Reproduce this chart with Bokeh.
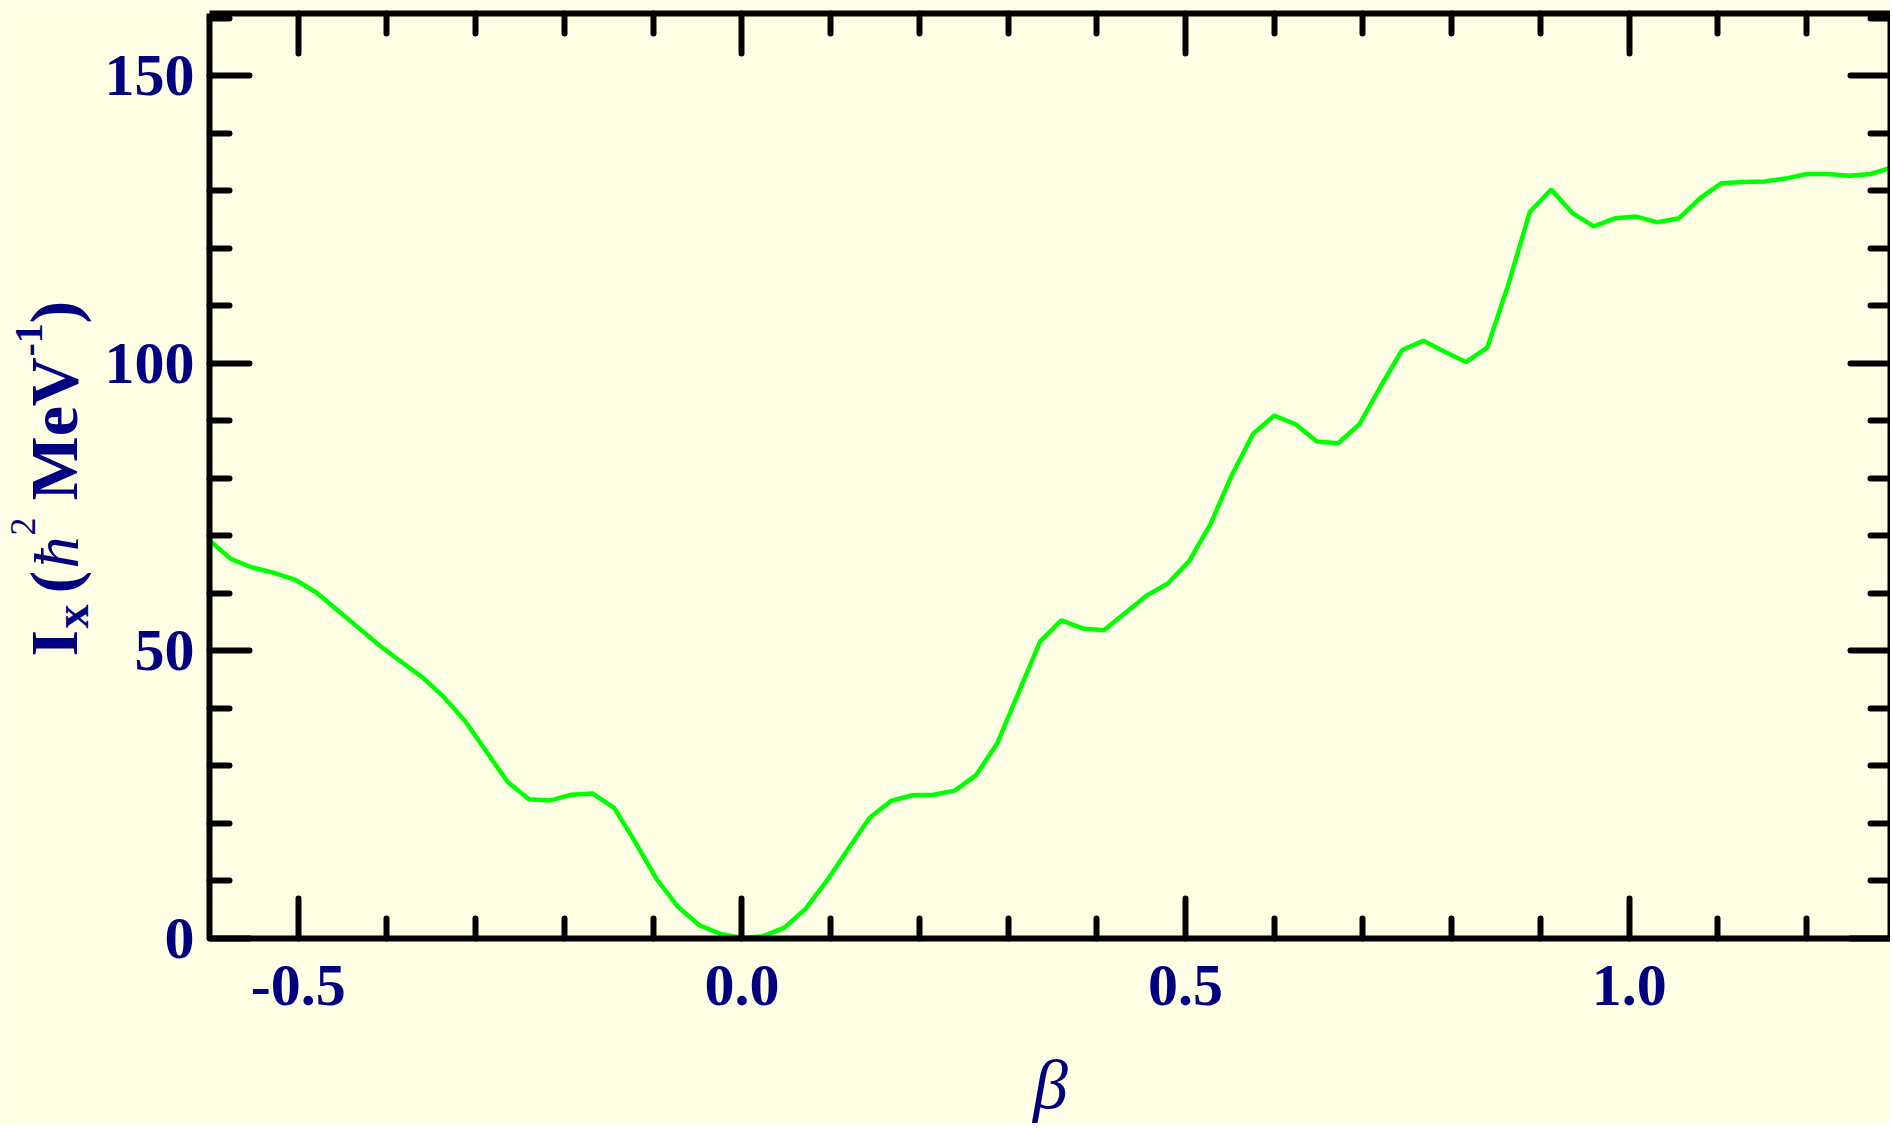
import math
from bokeh.plotting import figure
from bokeh.models import (Range1d, LinearAxis, FixedTicker, PrintfTickFormatter,
                          CustomJSTickFormatter, ColumnDataSource, Label)
from bokeh.embed import file_html
from bokeh.resources import INLINE

# ---- data ----
beta = [-0.600, -0.576, -0.552, -0.528, -0.504, -0.480, -0.456, -0.432, -0.408, -0.384,
        -0.360, -0.336, -0.312, -0.288, -0.264, -0.240, -0.216, -0.192, -0.168, -0.144,
        -0.120, -0.096, -0.072, -0.048, -0.024, 0.000, 0.024, 0.048, 0.072, 0.096,
        0.120, 0.144, 0.168, 0.192, 0.216, 0.240, 0.264, 0.288, 0.312, 0.336,
        0.360, 0.384, 0.408, 0.432, 0.456, 0.480, 0.504, 0.528, 0.552, 0.576,
        0.600, 0.624, 0.648, 0.672, 0.696, 0.720, 0.744, 0.768, 0.792, 0.816,
        0.840, 0.864, 0.888, 0.912, 0.936, 0.960, 0.984, 1.008, 1.032, 1.056,
        1.080, 1.104, 1.128, 1.152, 1.176, 1.200, 1.224, 1.248, 1.272, 1.296]
ix = [69.2, 66.0, 64.5, 63.6, 62.4, 60.2, 57.1, 54.0, 50.9, 48.1,
      45.4, 42.0, 37.8, 32.5, 27.2, 24.2, 24.0, 25.0, 25.2, 22.7,
      16.7, 10.3, 5.5, 2.3, 0.8, 0.1, 0.4, 1.9, 5.2, 10.1,
      15.6, 21.0, 23.9, 24.9, 25.0, 25.7, 28.4, 34.0, 42.8, 51.6,
      55.3, 53.9, 53.6, 56.6, 59.6, 61.7, 65.6, 72.0, 80.5, 87.7,
      90.9, 89.4, 86.4, 86.1, 89.4, 96.0, 102.3, 103.9, 102.0, 100.2,
      102.7, 113.8, 126.3, 130.2, 126.1, 123.8, 125.2, 125.5, 124.5, 125.2,
      128.7, 131.3, 131.5, 131.6, 132.1, 132.9, 132.9, 132.6, 132.9, 134.0]

x_major = [-0.5, 0.0, 0.5, 1.0]
x_minor = [-0.4, -0.3, -0.2, -0.1, 0.1, 0.2, 0.3, 0.4, 0.6, 0.7, 0.8, 0.9, 1.1, 1.2]
y_major = [0, 50, 100, 150]
y_minor = [10, 20, 30, 40, 60, 70, 80, 90, 110, 120, 130, 140, 160]

x_title = "β"
y_title_parts = ["I", "x", "(", "ħ", "2", "MeV", "-1", ")"]

# axes box (data) and page geometry
X0, X1 = -0.6, 1.2945
Y0, Y1 = 0.0, 160.8
W, H = 1890, 1124
LEFT, TOP, BOT = 209, 13, 938          # page px of the axes box
PX_X = (W - LEFT) / (X1 - X0)           # px per unit of beta
PX_Y = (BOT - TOP) / (Y1 - Y0)          # px per unit of I
MID = 0.3375                            # baseline -> text middle, in em

BG = "#FFFFE5"
NAVY = "#000080"

# the frame covers the whole canvas; axes are drawn at fixed locations
p = figure(width=W, height=H,
           x_range=Range1d(X0 - LEFT / PX_X, X1), y_range=Range1d(Y0 - (H - BOT) / PX_Y, Y1 + TOP / PX_Y),
           output_backend="svg", toolbar_location=None, min_border=0,
           x_axis_location=None, y_axis_location=None,
           background_fill_color=BG, border_fill_color=BG, outline_line_color=None)
p.grid.visible = False

src = ColumnDataSource(dict(beta=beta, ix=ix))
p.line("beta", "ix", source=src, line_color="#00FF00", line_width=4.5)


def make_axis(ticker, loc, bounds, labels, standoff=0, formatter=None):
    ax = LinearAxis(ticker=ticker, fixed_location=loc, bounds=bounds)
    ax.axis_line_width = 6
    ax.axis_line_color = "black"
    ax.major_tick_in = 40
    ax.major_tick_out = 0
    ax.minor_tick_in = 20
    ax.minor_tick_out = 0
    ax.major_tick_line_width = 6
    ax.minor_tick_line_width = 6
    ax.major_tick_line_color = "black"
    ax.minor_tick_line_color = "black"
    ax.major_tick_line_cap = "round"
    ax.minor_tick_line_cap = "round"
    ax.major_label_text_font = "Liberation Serif"
    ax.major_label_text_font_style = "bold"
    ax.major_label_text_color = NAVY
    if labels:
        ax.major_label_text_font_size = "60px"
        ax.major_label_standoff = standoff
        if formatter is not None:
            ax.formatter = formatter
    else:
        ax.formatter = CustomJSTickFormatter(code="return ''")
        ax.major_label_text_font_size = "0px"
        ax.major_label_standoff = 0
    return ax


xt = FixedTicker(ticks=x_major, minor_ticks=x_minor)
yt = FixedTicker(ticks=y_major, minor_ticks=y_minor)

p.add_layout(make_axis(xt, Y0, (X0, X1), True, 27, PrintfTickFormatter(format="%.1f")), "below")
p.add_layout(make_axis(yt, X0, (Y0, Y1), True, 15), "left")
p.add_layout(make_axis(xt, Y1, (X0, X1), False), "above")
p.add_layout(make_axis(yt, X1, (Y0, Y1), False), "right")

# x title (anchored at the middle of its text box; baseline at page y 1108)
p.add_layout(Label(x=1050, y=H - (1108 - MID * 70), x_units="screen", y_units="screen",
                   text=x_title, text_font="Liberation Serif", text_font_style="italic",
                   text_font_size="70px", text_color=NAVY,
                   text_align="center", text_baseline="middle"))

# y title, drawn in pieces (baseline x, start y from page top, size px, style)
A = math.pi / 2
layout_parts = [
    (76, 656, 68, "bold"),
    (87, 628, 48, "bold"),
    (76, 593, 68, "bold"),
    (78, 568, 64, "italic"),
    (35, 535, 36, "normal"),
    (76, 500, 68, "bold"),
    (42, 356, 40, "bold"),
    (76, 323, 68, "bold"),
]
for t, (bx, sy, fs, st) in zip(y_title_parts, layout_parts):
    p.add_layout(Label(x=bx - MID * fs, y=H - sy, x_units="screen", y_units="screen",
                       text=t, angle=A,
                       text_font="Liberation Serif", text_font_style=st,
                       text_font_size=f"{fs}px", text_color=NAVY,
                       text_align="left", text_baseline="middle"))

open("out.html", "w").write(file_html(p, INLINE))
